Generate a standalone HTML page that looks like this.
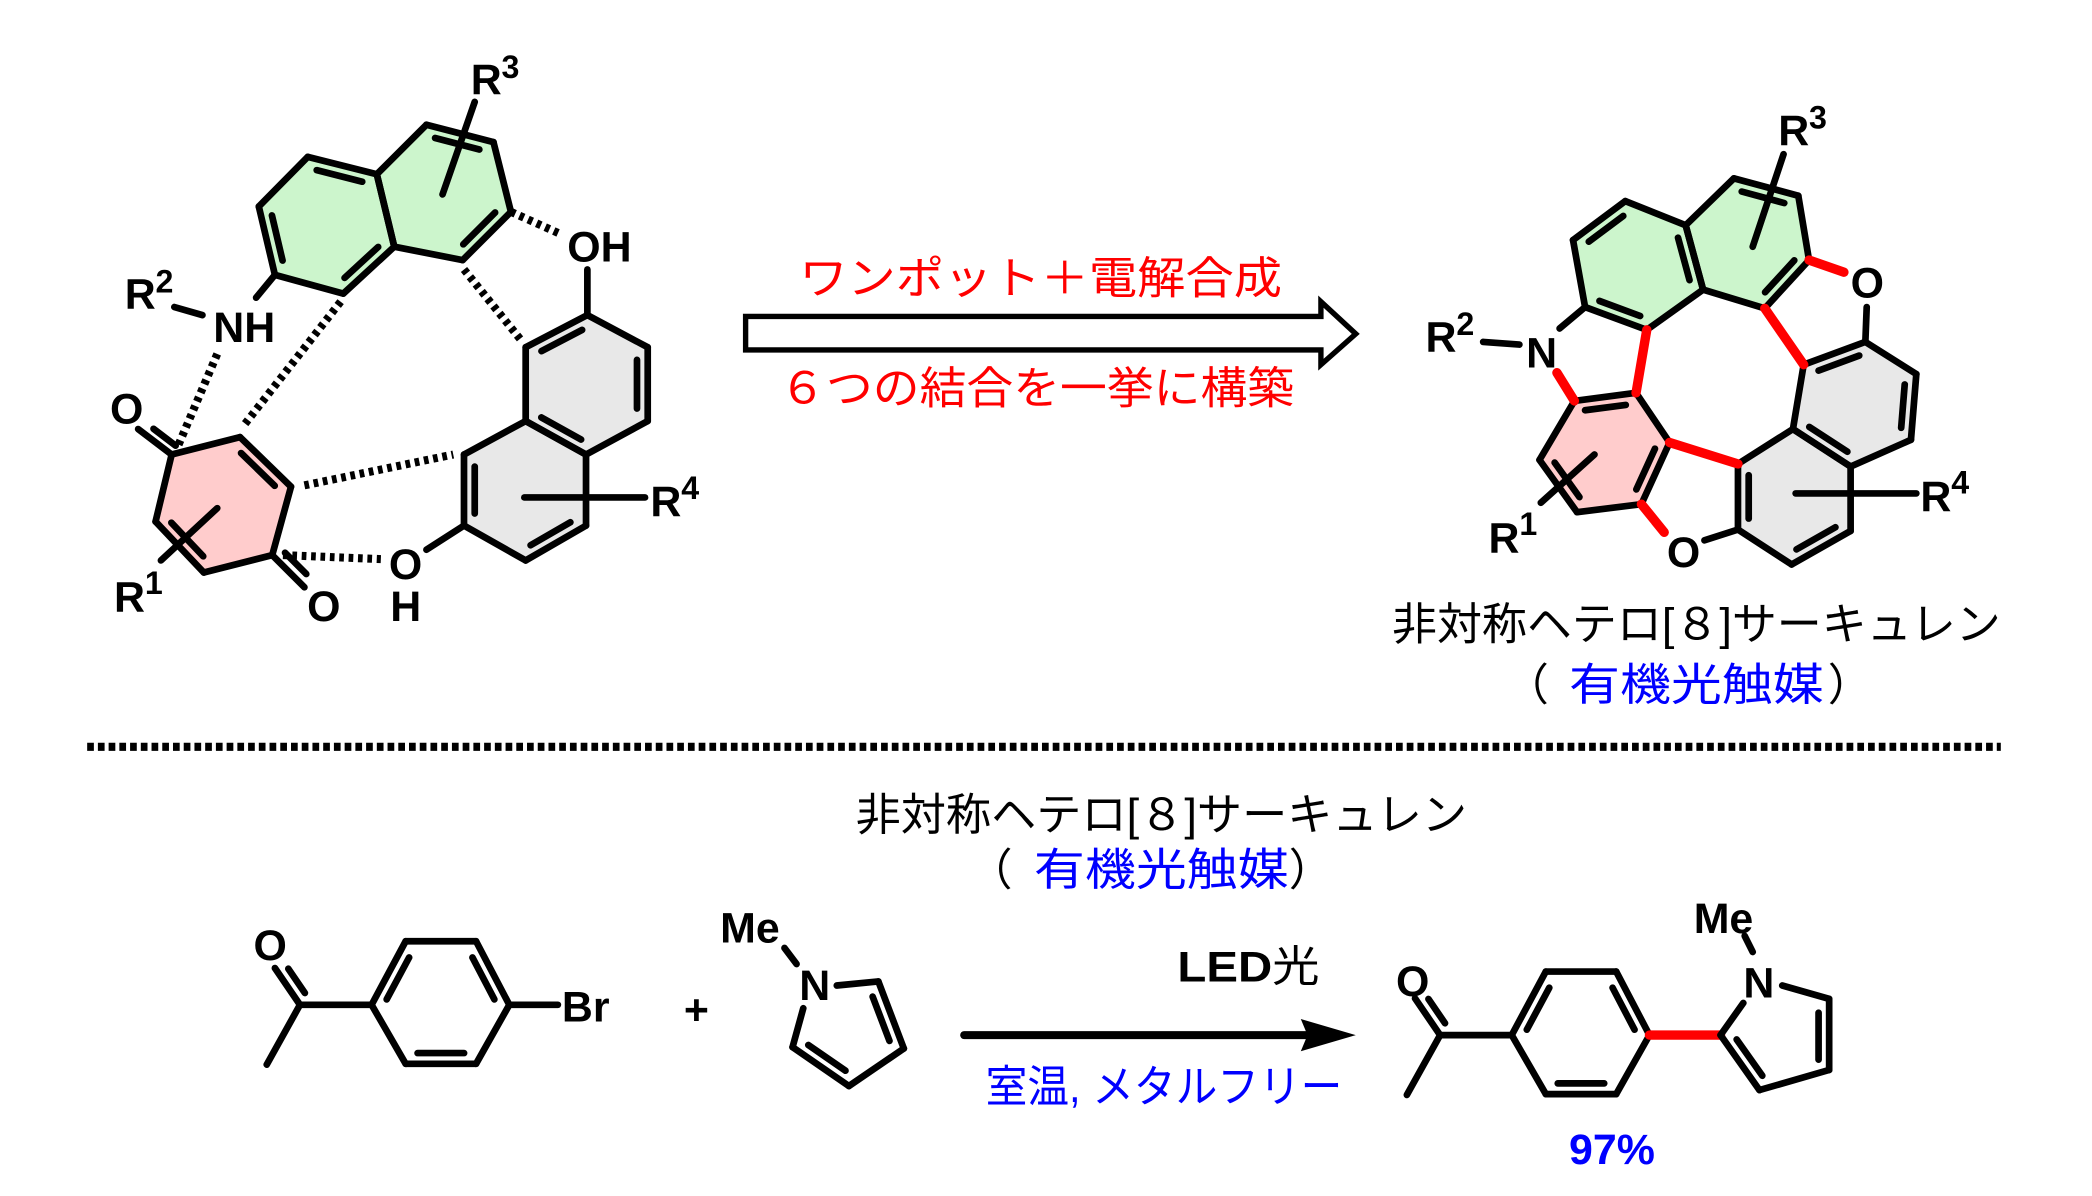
<!DOCTYPE html>
<html><head><meta charset="utf-8"><style>
html,body{margin:0;padding:0;background:#fff;}
svg{display:block;}
text{font-family:"Liberation Sans","Noto Sans CJK JP",sans-serif;}
.a{font-weight:bold;font-size:32px;fill:#000;}
.s{font-weight:bold;font-size:24px;fill:#000;}
.j{font-size:33px;}
</style></head><body>
<svg id="sv" width="2092" height="1196" viewBox="0 0 1560 892" preserveAspectRatio="none" xmlns="http://www.w3.org/2000/svg">
<g id="fills"></g>
<g id="bonds" stroke="#000" stroke-width="5" stroke-linecap="round" fill="none"></g>

<text class="a" x="351" y="70">R</text><text class="s" x="374" y="58">3</text>
<text class="a" x="93" y="230">R</text><text class="s" x="116" y="218">2</text>
<text class="a" x="159" y="255">NH</text>
<text class="a" x="423" y="195">OH</text>
<text class="a" x="82" y="316">O</text>
<text class="a" x="229" y="463">O</text>
<text class="a" x="290" y="432">O</text>
<text class="a" x="291" y="463">H</text>
<text class="a" x="85" y="456">R</text><text class="s" x="108" y="443">1</text>
<text class="a" x="485" y="385">R</text><text class="s" x="508" y="372">4</text>

<path d="M556,236 L985,236 L985,225 L1011,249 L985,272 L985,261 L556,261 Z" fill="#fff" stroke="#000" stroke-width="4"/>
<text class="j" x="776" y="219" fill="#f00" text-anchor="middle" textLength="360" lengthAdjust="spacingAndGlyphs">ワンポット＋電解合成</text>
<text class="j" x="773" y="301" fill="#f00" text-anchor="middle" textLength="384" lengthAdjust="spacingAndGlyphs">６つの結合を一挙に構築</text>

<text class="a" x="1326" y="108">R</text><text class="s" x="1349" y="96">3</text>
<text class="a" x="1380" y="222">O</text>
<text class="a" x="1063" y="262">R</text><text class="s" x="1086" y="250">2</text>
<text class="a" x="1138" y="274">N</text>
<text class="a" x="1110" y="412">R</text><text class="s" x="1133" y="399">1</text>
<text class="a" x="1243" y="423">O</text>
<text class="a" x="1432" y="381">R</text><text class="s" x="1455" y="368">4</text>

<text class="j" x="1265" y="477" fill="#000" text-anchor="middle" textLength="454" lengthAdjust="spacingAndGlyphs">非対称ヘテロ[８]サーキュレン</text>
<text class="j" x="1122" y="522" fill="#000">（</text>
<text class="j" x="1265" y="522" fill="#00f" text-anchor="middle" textLength="190" lengthAdjust="spacingAndGlyphs">有機光触媒</text>
<text class="j" x="1363" y="522" fill="#000">）</text>

<line x1="65" y1="557" x2="1492" y2="557" stroke="#000" stroke-width="6" stroke-dasharray="5,3"/>

<text class="j" x="866" y="619" fill="#000" text-anchor="middle" textLength="456" lengthAdjust="spacingAndGlyphs">非対称ヘテロ[８]サーキュレン</text>
<text class="j" x="722" y="660" fill="#000">（</text>
<text class="j" x="866" y="660" fill="#00f" text-anchor="middle" textLength="190" lengthAdjust="spacingAndGlyphs">有機光触媒</text>
<text class="j" x="961" y="660" fill="#000">）</text>

<text class="a" x="189" y="716">O</text>
<text class="a" x="419" y="762">Br</text>
<text class="a" x="510" y="764">+</text>
<text class="a" x="537" y="703">Me</text>
<text class="a" x="596" y="746">N</text>
<text class="a" x="878" y="732" textLength="106" lengthAdjust="spacingAndGlyphs">LED<tspan font-weight="normal">光</tspan></text>
<text class="j" x="868" y="822" fill="#00f" text-anchor="middle" textLength="266" lengthAdjust="spacingAndGlyphs">室温, メタルフリー</text>
<text class="a" x="1041" y="743">O</text>
<text class="a" x="1263" y="696">Me</text>
<text class="a" x="1300" y="744">N</text>
<text class="a" x="1170" y="868" style="fill:#00f">97%</text>
</svg>
<script>
var NS="http://www.w3.org/2000/svg";
var B=document.getElementById('bonds'),F=document.getElementById('fills'),S=document.getElementById('sv');
function ln(p,q,c,w,dash,par){var e=document.createElementNS(NS,'line');e.setAttribute('x1',p[0]);e.setAttribute('y1',p[1]);e.setAttribute('x2',q[0]);e.setAttribute('y2',q[1]);if(c)e.setAttribute('stroke',c);if(w)e.setAttribute('stroke-width',w);if(dash){e.setAttribute('stroke-dasharray',dash);e.setAttribute('stroke-linecap','butt');}(par||B).appendChild(e);}
function poly(pts,fill){var e=document.createElementNS(NS,'polygon');e.setAttribute('points',pts.map(function(p){return p.join(',')}).join(' '));e.setAttribute('fill',fill);F.appendChild(e);}
function cen(pts){var x=0,y=0;pts.forEach(function(p){x+=p[0];y+=p[1]});return [x/pts.length,y/pts.length];}
function inner(a,b,c,col){var mx=(a[0]+b[0])/2,my=(a[1]+b[1])/2;var dx=c[0]-mx,dy=c[1]-my,d=Math.hypot(dx,dy),o=8;var ux=dx/d*o,uy=dy/d*o;var t=0.17;var p=[a[0]+(b[0]-a[0])*t+ux,a[1]+(b[1]-a[1])*t+uy],q=[b[0]+(a[0]-b[0])*t+ux,b[1]+(a[1]-b[1])*t+uy];ln(p,q,col);}
function ring(pts,fill,dbl,red){if(fill)poly(pts,fill);var c=cen(pts);for(var i=0;i<pts.length;i++){var a=pts[i],b=pts[(i+1)%pts.length];ln(a,b);}(dbl||[]).forEach(function(i){inner(pts[i],pts[(i+1)%pts.length],c);});}
var hash="3.5,3.5";
var A1=[229.5,117],A2=[281,130],A3=[294,184],A4=[256,219],A5=[205,205],A6=[193,154];
var B1=[318,93],B2=[368,106],B3=[381,158],B4=[345,194];
ring([A1,A2,A3,A4,A5,A6],'#ccf5cc',[0,2,4]);
ring([A2,B1,B2,B3,B4,A3],'#ccf5cc',[1,3]);
ln([354,76],[330,145]);
ln(A5,[191,222]);ln([130,229],[151,235]);
ln(B3,[419,175],null,6,hash);
var C1=[438,235],C2=[483,259],C3=[483,314],C4=[437,339],C5=[392,314],C6=[392,259];
var D1=[437,392],D2=[392,418],D3=[346,392],D4=[346,339];
ring([C1,C2,C3,C4,C5,C6],'#e8e8e8',[1,3,5]);
ring([C5,C4,D1,D2,D3,D4],'#e8e8e8',[2,4]);
ln(C1,[438,201]);
ln([391,371],[481,371]);
ln(D3,[318,410]);
ln([211,414],[284,417],null,6,hash);
ln([227,362],[338,339],null,6,hash);
ln([346,201],[388,253],null,6,hash);
ln([254,225],[182,317],null,6,hash);
ln([162,264],[133,332],null,6,hash);
var P1=[128,339],P2=[179,326],P3=[217,363],P4=[203,414],P5=[152,427],P6=[116,389];
ring([P1,P2,P3,P4,P5,P6],'#ffcccc',[1,4]);
ln(P1,[103,320]);inner(P1,[103,320],[140,318]);
ln(P4,[227,438]);inner(P4,[227,438],[230,410]);
ln([162,379],[120,418]);
var E1=[1212,150],E2=[1257,168],E3=[1270,216],E4=[1228,246],E5=[1182,229],E6=[1173,179];
var F1=[1293,133],F2=[1341,146],F3=[1349,194],F4=[1316,230];
ring([E1,E2,E3,E4,E5,E6],'#ccf5cc',[1,3,5]);
ring([E2,F1,F2,F3,F4,E3],'#ccf5cc',[1,3]);
ln([1330,115],[1307,184]);
ln(F3,[1375,203],'#f00',7);
ln([1392,229],[1391,255]);
var G1=[1391,255],G2=[1429,279],G3=[1425,328],G4=[1380,348],G5=[1337,320],G6=[1345,272];
var H1=[1380,396],H2=[1336,421],H3=[1296,395],H4=[1296,346];
ring([G1,G2,G3,G4,G5,G6],'#e8e8e8',[1,3,5]);
ring([G5,G4,H1,H2,H3,H4],'#e8e8e8',[2,4]);
var Q1=[1174,299],Q2=[1220,293],Q3=[1245,330],Q4=[1224,376],Q5=[1176,382],Q6=[1148,343];
ring([Q1,Q2,Q3,Q4,Q5,Q6],'#ffcccc',[0,2,4]);
ln(F4,G6,'#f00',7);
ln(H4,Q3,'#f00',7);
ln(E4,Q2,'#f00',7);
ln([1161,278],Q1,'#f00',7);
ln([1163,245],E5);
ln([1106,255],[1133,257]);
ln([1189,339],[1149,375]);
ln(Q4,[1241,397],'#f00',7);
ln([1271,403],H3);
ln([1339,368],[1429,368]);
function aceto(dx,dy){
 var r=[[277.1,749.4],[302.5,702],[355,702],[379.8,749.4],[355,793.4],[302.5,793.4]].map(function(p){return [p[0]+dx,p[1]+dy]});
 ring(r,null,[0,2,4]);
 var c=[223.7+dx,749.4+dy];
 ln(c,r[0]);ln(c,[205+dx,722+dy]);inner(c,[205+dx,722+dy],[240+dx,720+dy]);ln(c,[198.9+dx,794+dy]);
 return r;
}
var r1=aceto(0,0);
ln(r1[3],[416,749.4]);
var pN=[608,744],pC2=[655,732],pC3=[674,782],pC4=[633,810],pC5=[591,781];
ln([624,735],pC2);ln(pC2,pC3);ln(pC3,pC4);ln(pC4,pC5);ln(pC5,[599,752]);
inner(pC2,pC3,[630,770]);inner(pC4,pC5,[630,770]);
ln([585,707],[594,719]);
ln([719,772],[980,772],null,6);
var ah=document.createElementNS(NS,'polygon');ah.setAttribute('points','970,760 1011,772 970,784 975,772');S.appendChild(ah);
var r2=aceto(850.2,22.6);
ln(r2[3],[1283,772],'#f00',7);
var C2p=[1283,772],Np=[1300,748],C5p=[1364,745],C4p=[1364,798],C3p=[1312,813];
ln(C2p,Np);ln([1329,735],C5p);ln(C5p,C4p);ln(C4p,C3p);ln(C3p,C2p);
inner(C5p,C4p,[1325,778]);inner(C3p,C2p,[1325,778]);
ln([1301,698],[1307,710]);
</script>
</body></html>
